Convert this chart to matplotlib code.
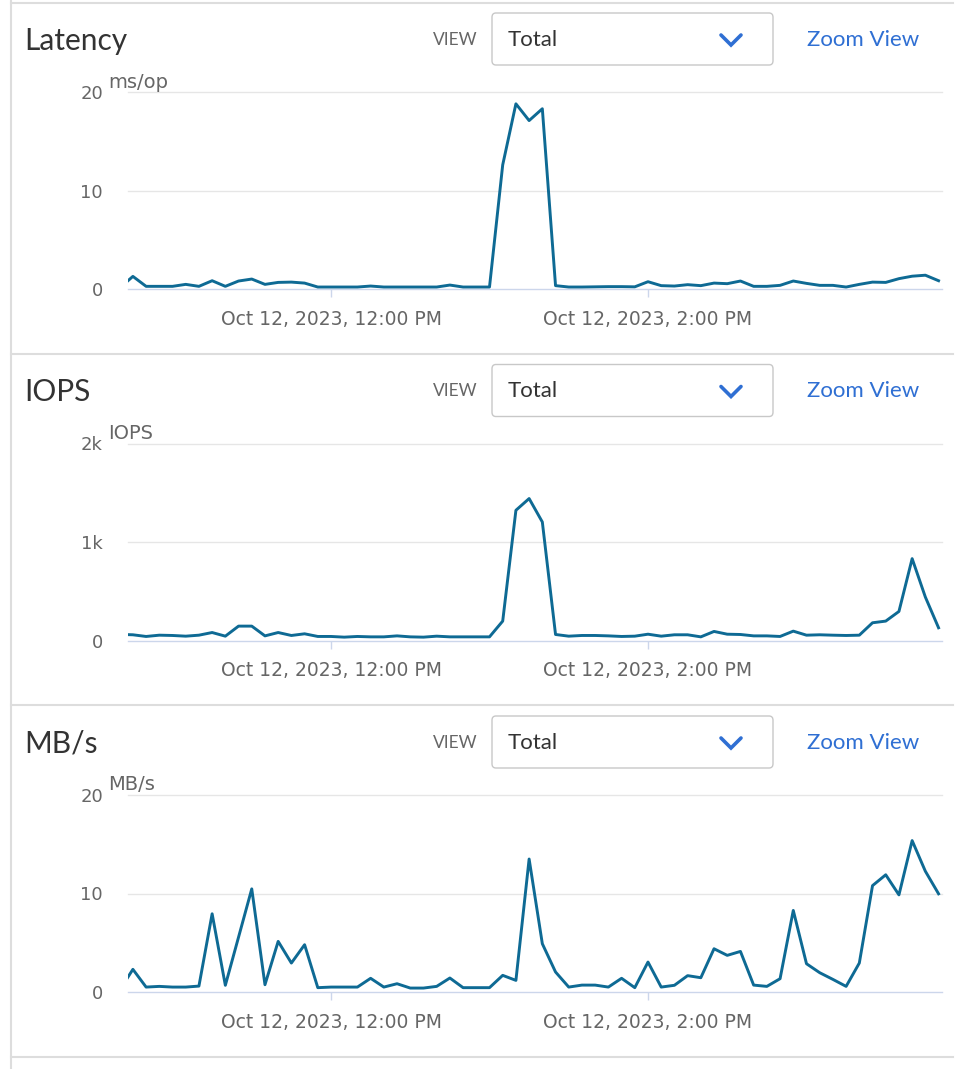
import matplotlib
matplotlib.use("Agg")
import matplotlib.pyplot as plt
import matplotlib.dates as mdates
from matplotlib.patches import FancyBboxPatch
from matplotlib.lines import Line2D
import pandas as pd

# 5-minute samples, Oct 12 2023, 10:40 -> 15:50
times = pd.date_range("2023-10-12 10:40", "2023-10-12 15:50", freq="5min")

latency = [0.1, 1.28, 0.27, 0.27, 0.27, 0.47, 0.27, 0.84, 0.27, 0.81,
           1.01, 0.47, 0.67, 0.70, 0.60, 0.20, 0.20, 0.20, 0.20, 0.30,
           0.20, 0.20, 0.20, 0.20, 0.20, 0.40, 0.20, 0.20, 0.20, 12.6,
           18.8, 17.1, 18.3, 0.34, 0.20, 0.20, 0.22, 0.24, 0.24, 0.22,
           0.74, 0.34, 0.30, 0.44, 0.34, 0.60, 0.54, 0.81, 0.27, 0.27,
           0.37, 0.81, 0.57, 0.37, 0.37, 0.20, 0.47, 0.70, 0.67, 1.05,
           1.30, 1.40, 0.84]

iops = [62, 58, 41, 54, 51, 44, 54, 81, 44, 146,
        146, 47, 81, 51, 68, 41, 41, 34, 41, 37,
        37, 47, 37, 34, 44, 37, 37, 37, 37, 197,
        1322, 1441, 1203, 61, 44, 51, 51, 47, 41, 44,
        64, 44, 58, 58, 37, 92, 64, 61, 47, 47,
        41, 95, 54, 58, 54, 51, 54, 180, 197, 295,
        831, 441, 129]

mbps = [0.2, 2.3, 0.50, 0.57, 0.50, 0.50, 0.60, 7.94, 0.68, 5.57,
        10.47, 0.74, 5.14, 2.94, 4.80, 0.44, 0.50, 0.50, 0.50, 1.39,
        0.50, 0.84, 0.40, 0.40, 0.57, 1.42, 0.44, 0.44, 0.44, 1.69,
        1.18, 13.5, 4.90, 2.03, 0.50, 0.70, 0.70, 0.50, 1.39, 0.44,
        3.04, 0.50, 0.68, 1.66, 1.45, 4.39, 3.72, 4.12, 0.70, 0.57,
        1.35, 8.28, 2.87, 1.96, 1.28, 0.57, 2.94, 10.8, 11.9, 9.86,
        15.37, 12.26, 9.97]

titles = ["Latency", "IOPS", "MB/s"]
units = ["ms/op", "IOPS", "MB/s"]
y_max = [20, 2000, 20]
y_ticks = [[0, 10, 20], [0, 1000, 2000], [0, 10, 20]]
y_tick_labels = [["0", "10", "20"], ["0", "1k", "2k"], ["0", "10", "20"]]
x_tick_times = ["2023-10-12 12:00", "2023-10-12 14:00"]
x_tick_labels = ["Oct 12, 2023, 12:00 PM", "Oct 12, 2023, 2:00 PM"]
view_choice = "Total"

W, H = 966, 1069
fig = plt.figure(figsize=(W / 100, H / 100), dpi=100)
fig.patch.set_facecolor("white")


def fx(x):
    return x / W


def fy(y):
    return 1 - y / H


LINE = "#0e6a94"
GRID = "#e6e6e6"
AXIS = "#ccd6eb"
LABEL = "#666666"
SEP = "#dddddd"
BLUE = "#2f6fd3"
FONT = "Lato"
TICKFONT = "DejaVu Sans"

x_start = pd.Timestamp("2023-10-12 10:43:09")
x_end = pd.Timestamp("2023-10-12 15:51:18")

series = [latency, iops, mbps]

for k in range(3):
    off = 351.5 * k

    # plot area
    ax = fig.add_axes([fx(128), fy(289 + off), 814 / W, 197 / H])
    ax.plot(times, series[k], color=LINE, lw=2.1, zorder=3)
    ax.set_xlim(x_start, x_end)
    ax.set_ylim(0, y_max[k])
    for sp in ["top", "left", "right"]:
        ax.spines[sp].set_visible(False)
    ax.spines["bottom"].set_color(AXIS)
    ax.spines["bottom"].set_linewidth(1.0)
    for v in y_ticks[k][1:]:
        ax.axhline(v, color=GRID, lw=1.0, zorder=1, clip_on=False)
    ax.set_yticks(y_ticks[k])
    ax.set_yticklabels(y_tick_labels[k], fontsize=13, color=LABEL, family=TICKFONT)
    ax.tick_params(axis="y", length=0, pad=18)
    ax.set_xticks([mdates.date2num(pd.Timestamp(t)) for t in x_tick_times])
    ax.set_xticklabels(x_tick_labels, fontsize=13.5, color=LABEL, family=TICKFONT)
    ax.tick_params(axis="x", length=6, width=1, color=AXIS, pad=9)
    ax.set_facecolor("none")

    # unit label
    fig.text(fx(108), fy(82 + off), units[k], fontsize=14, color=LABEL,
             family=TICKFONT, ha="left", va="center")

    # header
    fig.text(fx(24), fy(41 + off), titles[k], fontsize=21.5, color="#333333",
             family=FONT, ha="left", va="center")
    fig.text(fx(433), fy(40 + off), "VIEW", fontsize=12.5, color=LABEL,
             family=FONT, ha="left", va="center")
    box = FancyBboxPatch((fx(492), fy(65 + off)), fx(773) - fx(492), fy(13) - fy(65),
                         boxstyle="round,pad=0,rounding_size=0.004",
                         transform=fig.transFigure, facecolor="white",
                         edgecolor="#c8c8c8", lw=1.0)
    fig.add_artist(box)
    fig.text(fx(508), fy(40 + off), view_choice, fontsize=16, color="#333333",
             family=FONT, ha="left", va="center")
    fig.add_artist(Line2D([fx(721), fx(731), fx(741)],
                          [fy(35 + off), fy(45 + off), fy(35 + off)],
                          transform=fig.transFigure, color=BLUE, lw=2.6,
                          solid_capstyle="round", solid_joinstyle="miter"))
    fig.text(fx(807), fy(40 + off), "Zoom View", fontsize=16, color=BLUE,
             family=FONT, ha="left", va="center")

# panel separators
for y in [3, 354, 705, 1057]:
    fig.add_artist(Line2D([fx(11), fx(953)], [fy(y), fy(y)],
                          transform=fig.transFigure, color=SEP, lw=1.5))
fig.add_artist(Line2D([fx(11), fx(11)], [fy(0), fy(1069)],
                      transform=fig.transFigure, color=SEP, lw=1.5))

fig.savefig("out.png", dpi=100, facecolor="white")
